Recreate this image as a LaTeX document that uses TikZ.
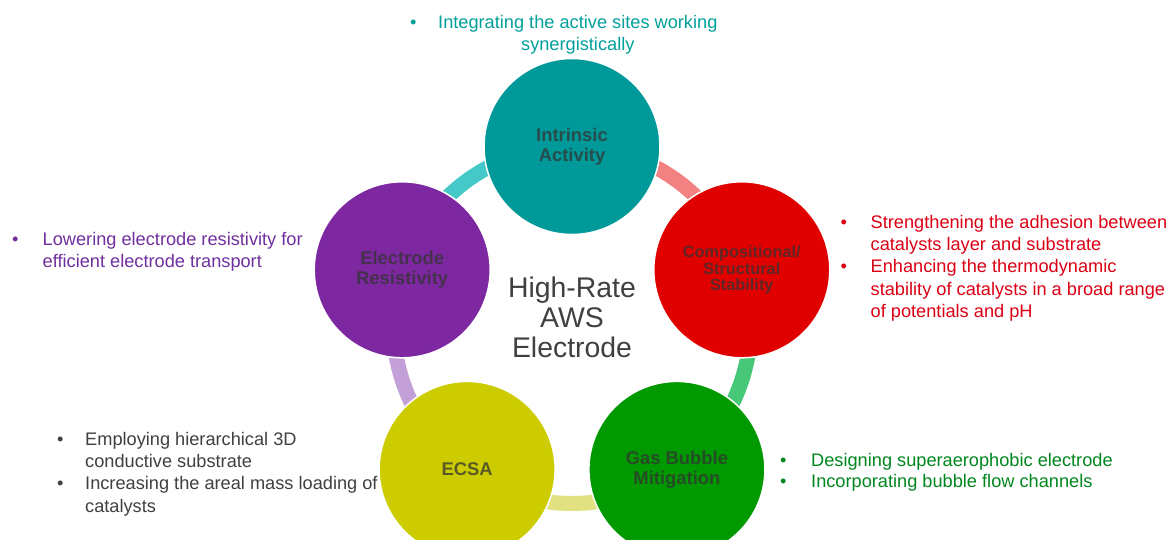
\documentclass[tikz,border=0pt]{standalone}
\usepackage{fontspec}
\setmainfont{Liberation Sans}
\usepackage{array}
\definecolor{cteal}{RGB}{0,153,153}
\definecolor{cred}{RGB}{224,0,0}
\definecolor{cpurple}{RGB}{125,40,160}
\definecolor{colive}{RGB}{204,204,0}
\definecolor{cgreen}{RGB}{0,153,0}
\definecolor{rsalmon}{RGB}{242,130,130}
\definecolor{rgreen}{RGB}{70,200,120}
\definecolor{ryellow}{RGB}{225,225,130}
\definecolor{rlilac}{RGB}{195,160,215}
\definecolor{rcyan}{RGB}{70,200,200}
\definecolor{tteal}{RGB}{0,160,155}
\definecolor{tred}{RGB}{220,0,20}
\definecolor{tpurple}{RGB}{112,48,160}
\definecolor{tgreen}{RGB}{0,135,30}
\definecolor{tgray}{RGB}{64,64,64}
\begin{document}
\begin{tikzpicture}[x=1pt,y=-1pt,
  blob/.style={circle, draw=white, line width=1.5pt, minimum size=176pt, inner sep=0pt, align=center,
    font=\fontsize{18.4}{20}\selectfont\bfseries, text=black!80, text opacity=0.75},
  ring/.style={line width=15pt},
  list/.style={anchor=base west, inner sep=0pt, font=\fontsize{18.2}{22.4}\selectfont}]
\useasboundingbox (0,0) rectangle (1169,539);
\fill[white] (0,0) rectangle (1169,539);
\coordinate (pT) at (572,146.5);
\coordinate (pR) at (741.8,269.8);
\coordinate (pBR) at (676.9,469.4);
\coordinate (pBL) at (467.1,469.4);
\coordinate (pL) at (402.2,269.8);
% ring segments
\draw[ring, rsalmon] (pT) arc[start angle=-90, end angle=-18, radius=178.5];
\draw[ring, rgreen] (pR) arc[start angle=-18, end angle=54, radius=178.5];
\draw[ring, ryellow] (pBR) arc[start angle=54, end angle=126, radius=178.5];
\draw[ring, rlilac] (pBL) arc[start angle=126, end angle=198, radius=178.5];
\draw[ring, rcyan] (pL) arc[start angle=198, end angle=270, radius=178.5];
% circles
\node[blob, fill=cteal] (ia) at (pT) {Intrinsic\\Activity};
\node[blob, fill=cred, font=\fontsize{16.3}{16.5}\selectfont\bfseries] (cs) at (pR) {Compositional/\\Structural\\Stability};
\node[blob, fill=cgreen] (gb) at (pBR) {Gas Bubble\\Mitigation};
\node[blob, fill=colive] (ec) at (pBL) {ECSA};
\node[blob, fill=cpurple] (er) at (pL) {Electrode\\Resistivity};
% centre text
\node[anchor=base, inner sep=0pt, text=tgray, font=\fontsize{28.4}{30}\selectfont] (hr) at (572,297)
  {\begin{tabular}[t]{@{}c@{}}High-Rate\\AWS\\Electrode\end{tabular}};
% lists
\node[list, text=tteal] (lt) at (410,28)
  {\begin{tabular}[t]{@{}w{l}{28pt}@{}c@{}}• & Integrating the active sites working\\ & synergistically\end{tabular}};
\node[list, text=tpurple] (lp) at (12,245)
  {\begin{tabular}[t]{@{}w{l}{30.5pt}@{}l@{}}• & Lowering electrode resistivity for\\ & efficient electrode transport\end{tabular}};
\node[list, text=tred] (lr) at (840.5,228)
  {\begin{tabular}[t]{@{}w{l}{30pt}@{}l@{}}• & Strengthening the adhesion between\\ & catalysts layer and substrate\\
  • & Enhancing the thermodynamic\\ & stability of catalysts in a broad range\\ & of potentials and pH\end{tabular}};
\node[list, text=tgray] (ly) at (57,445)
  {\begin{tabular}[t]{@{}w{l}{28pt}@{}l@{}}• & Employing hierarchical 3D\\ & conductive substrate\\
  • & Increasing the areal mass loading of\\ & catalysts\end{tabular}};
\node[list, text=tgreen, font=\fontsize{18.2}{21.2}\selectfont] (lg) at (780,466)
  {\begin{tabular}[t]{@{}w{l}{31pt}@{}l@{}}• & Designing superaerophobic electrode\\
  • & Incorporating bubble flow channels\end{tabular}};
\end{tikzpicture}
\end{document}
